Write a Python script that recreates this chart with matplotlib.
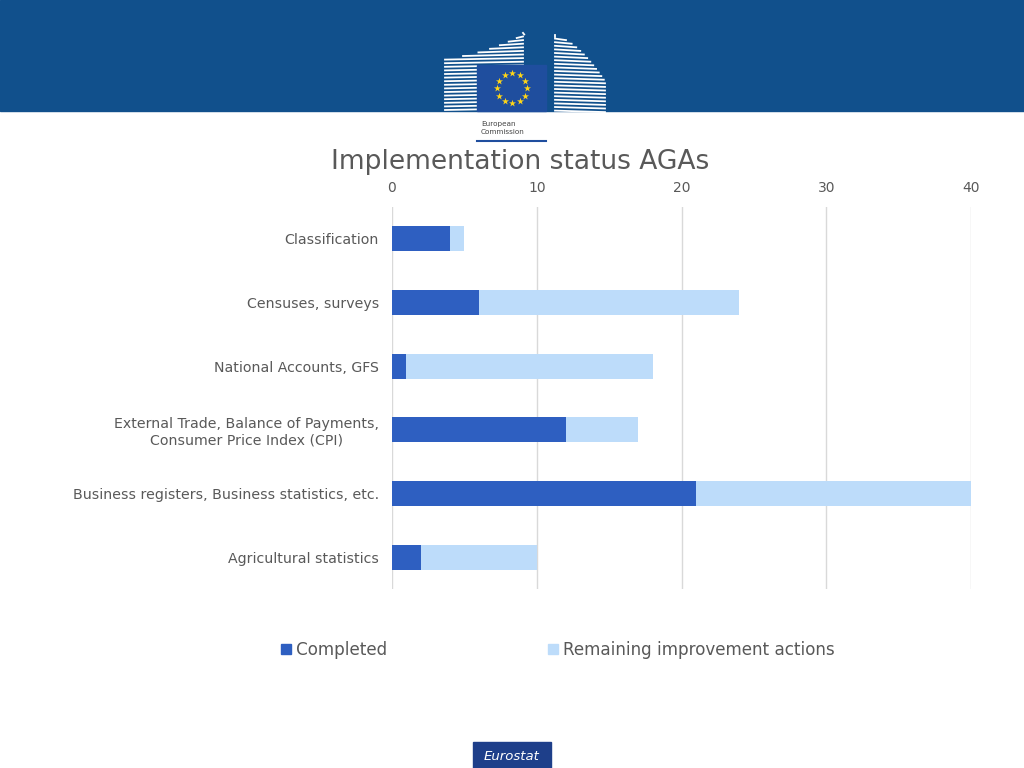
import numpy as np
import matplotlib.pyplot as plt
from matplotlib.patches import Rectangle, Patch

# ----------------------------
# Dados
# ----------------------------
categorias = [
    "Classification",
    "Censuses, surveys",
    "National Accounts, GFS",
    "External Trade, Balance of Payments,\nConsumer Price Index (CPI)",
    "Business registers, Business statistics, etc.",
    "Agricultural statistics",
]
concluidas = [4, 6, 1, 12, 21, 2]
restantes = [1, 18, 17, 5, 19, 8]
ticks_x = [0, 10, 20, 30, 40]

cor_concl = "#2e5fc1"
cor_rest = "#bddcfa"
cinza = "#595959"
azul_topo = "#11508c"

fig = plt.figure(figsize=(10.24, 7.68), dpi=100)

# ----------------------------
# Fundo: faixa azul, logo, rodapé (coordenadas em pixels)
# ----------------------------
bg = fig.add_axes([0, 0, 1, 1], zorder=0)
bg.set_xlim(0, 1024)
bg.set_ylim(768, 0)
bg.axis("off")

bg.add_patch(Rectangle((0, 0), 1024, 111, color=azul_topo, zorder=0))

# prédio esquerdo (linhas brancas, topo curvo subindo para a direita)
for yy in np.arange(110, 34, -3.6):
    if yy >= 58:
        x0 = 445
    else:
        x0 = 445 + (523 - 445) * ((58 - yy) / 23) ** 0.6
    bg.plot([x0, 523], [yy, yy - 1.5], color="white", lw=1.3, zorder=1)
# prédio direito (topo curvo descendo para a direita)
for yy in np.arange(35, 111, 3.6):
    x1 = 555 + (605 - 555) * min(1, ((yy - 35) / 45) ** 0.6)
    bg.plot([555, x1], [yy, yy + 1.5], color="white", lw=1.3, zorder=1)

bg.add_patch(Rectangle((477, 65), 69, 46, color="#1f4e9e", zorder=3))
ang = np.linspace(0, 2 * np.pi, 13)[:-1]
bg.scatter(512 + 15 * np.cos(ang), 88 + 15 * np.sin(ang), marker="*",
           s=28, color="#ffd617", linewidths=0, zorder=4)
bg.text(481, 124, "European", fontsize=5.2, color="#444444", va="center")
bg.text(481, 132, "Commission", fontsize=5.2, color="#444444", va="center")
bg.plot([477, 546], [141, 141], color="#1f4e9e", lw=1.5)

bg.add_patch(Rectangle((473, 742), 78, 26, color="#1e3f8a"))
bg.text(512, 756, "Eurostat", fontsize=9.5, style="italic", color="white",
        ha="center", va="center")

fig.text(0.508, 1 - 162 / 768, "Implementation status AGAs", fontsize=19.1,
         color=cinza, ha="center", va="center")

# ----------------------------
# Gráfico de barras empilhadas
# ----------------------------
ax = fig.add_axes([392 / 1024, 1 - 589 / 768, (971 - 392) / 1024, 382 / 768], zorder=1)
ax.patch.set_alpha(0)
y = np.arange(len(categorias))
ax.barh(y, concluidas, height=0.39, color=cor_concl, label="Completed", zorder=2)
ax.barh(y, restantes, left=concluidas, height=0.39, color=cor_rest,
        label="Remaining improvement actions", zorder=2)

ax.set_xlim(0, 40)
ax.set_ylim(len(categorias) - 0.5, -0.5)
ax.set_xticks(ticks_x)
ax.xaxis.tick_top()
ax.set_yticks(y)
ax.set_yticklabels(categorias)
for t in ax.get_yticklabels():
    t.set_multialignment("center")
ax.tick_params(axis="y", length=0, pad=9.5, labelsize=10.2, labelcolor=cinza)
ax.tick_params(axis="x", length=0, pad=9, labelsize=10, labelcolor=cinza)
ax.grid(axis="x", color="#d9d9d9", lw=1, zorder=0)
for s in ax.spines.values():
    s.set_visible(False)

handles = [Patch(color=cor_concl), Patch(color=cor_rest)]
fig.legend(handles, ["Completed", "Remaining improvement actions"],
           loc="center", bbox_to_anchor=(0.5446, 1 - 650 / 768), ncol=2,
           frameon=False, fontsize=12.1, handlelength=0.6, handleheight=0.6,
           handletextpad=0.3, columnspacing=9.6, labelcolor=cinza)

fig.savefig("out.png", dpi=100)
